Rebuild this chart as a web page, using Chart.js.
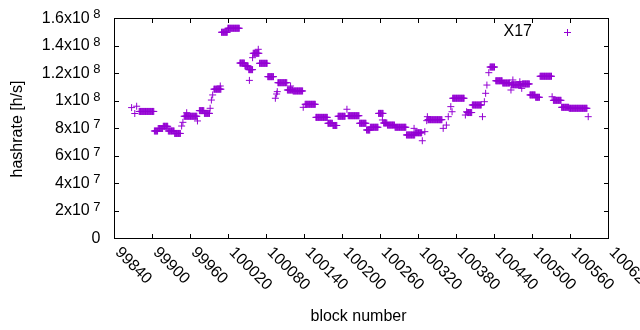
<!DOCTYPE html>
<html>
<head>
<meta charset="utf-8">
<script src="https://cdn.jsdelivr.net/npm/chart.js@4.4.1/dist/chart.umd.min.js"></script>
<style>
  html, body { margin: 0; padding: 0; background: #fff; }
  #wrap { width: 640px; height: 330px; }
</style>
</head>
<body>
<div id="wrap"><canvas id="chart" width="640" height="330"></canvas></div>
<script>
// hashrate readings, grouped in runs of consecutive blocks with the same value
const runStart = [
  99867, 99872, 99875, 99879, 99903, 99909, 99917, 99925, 99935, 99946,
  99948, 99950, 99954, 99971, 99974, 99982, 99991, 99993, 99995, 99997,
  100007, 100009, 100019, 100038, 100046, 100052, 100053, 100058, 100059, 100067,
  100069, 100082, 100094, 100096, 100097, 100098, 100113, 100118, 100122, 100138,
  100141, 100158, 100177, 100185, 100193, 100207, 100209, 100227, 100238, 100244,
  100257, 100263, 100265, 100271, 100283, 100301, 100313, 100315, 100326, 100330,
  100333, 100334, 100335, 100359, 100364, 100367, 100371, 100373, 100374, 100394,
  100396, 100397, 100405, 100421, 100424, 100426, 100428, 100431, 100433, 100442,
  100453, 100466, 100467, 100469, 100480, 100483, 100484, 100496, 100505, 100512,
  100531, 100533, 100546, 100558, 100588
];
const runEnd = [
  99867, 99872, 99875, 99902, 99908, 99916, 99924, 99934, 99944, 99946,
  99948, 99970, 99954, 99971, 99981, 99990, 99991, 99993, 99995, 100008,
  100007, 100018, 100037, 100045, 100051, 100058, 100053, 100058, 100068, 100067,
  100081, 100091, 100094, 100096, 100097, 100112, 100121, 100118, 100137, 100138,
  100157, 100176, 100184, 100191, 100204, 100207, 100226, 100237, 100243, 100256,
  100264, 100263, 100270, 100282, 100300, 100314, 100313, 100325, 100326, 100330,
  100333, 100334, 100357, 100359, 100364, 100367, 100371, 100373, 100392, 100394,
  100396, 100404, 100419, 100421, 100424, 100426, 100428, 100431, 100440, 100452,
  100464, 100466, 100482, 100469, 100480, 100483, 100495, 100504, 100511, 100530,
  100531, 100545, 100557, 100586, 100588
];
const runHashrate = [
  9.52e7, 9.09e7, 9.62e7, 9.24e7, 7.82e7, 8.00e7, 8.16e7, 7.82e7, 7.64e7, 8.18e7,
  8.45e7, 8.89e7, 9.15e7, 8.55e7, 9.30e7, 9.10e7, 9.47e7, 10.07e7, 10.44e7, 10.86e7,
  11.09e7, 15.00e7, 15.29e7, 12.76e7, 12.55e7, 12.28e7, 11.50e7, 13.15e7, 13.47e7, 13.76e7,
  12.74e7, 11.77e7, 10.20e7, 10.51e7, 10.68e7, 11.33e7, 10.80e7, 11.09e7, 10.73e7, 9.54e7,
  9.76e7, 8.81e7, 8.38e7, 8.22e7, 8.89e7, 9.40e7, 8.93e7, 8.38e7, 7.89e7, 8.09e7,
  9.10e7, 8.62e7, 8.40e7, 8.25e7, 8.09e7, 7.53e7, 8.01e7, 7.69e7, 7.11e7, 7.77e7,
  8.57e7, 8.86e7, 8.64e7, 8.01e7, 8.25e7, 8.86e7, 9.59e7, 9.22e7, 10.20e7, 8.98e7,
  9.22e7, 9.16e7, 9.71e7, 8.86e7, 9.95e7, 10.56e7, 11.16e7, 12.06e7, 12.47e7, 11.47e7,
  11.31e7, 10.80e7, 11.18e7, 11.53e7, 11.40e7, 10.92e7, 11.24e7, 10.44e7, 10.27e7, 11.80e7,
  10.31e7, 10.05e7, 9.54e7, 9.47e7, 8.86e7
];

const xTicks = [99840, 99900, 99960, 100020, 100080, 100140, 100200, 100260, 100320, 100380, 100440, 100500, 100560, 100620];
const yTicks = [0, 2e7, 4e7, 6e7, 8e7, 1e8, 1.2e8, 1.4e8, 1.6e8];
const yTickMantissa = ['0', '2x10', '4x10', '6x10', '8x10', '1x10', '1.2x10', '1.4x10', '1.6x10'];
const yTickExponent = ['', '7', '7', '7', '7', '8', '8', '8', '8'];
const seriesName = 'X17';

const purple = '#9400d3';
const FONT = '"Liberation Sans", Arial, sans-serif';

// one point per block
const points = [];
runStart.forEach((s, i) => {
    for (let b = s; b <= runEnd[i]; b++) points.push({ x: b, y: runHashrate[i] });
});

// gnuplot-style frame, mirrored inward ticks, labels and key
const gnuplotAxes = {
    id: 'gnuplotAxes',
    afterDraw(chart) {
        const ctx = chart.ctx;
        const a = chart.chartArea;
        const xs = chart.scales.x, ys = chart.scales.y;
        const tl = 4.5;
        const snap = v => Math.floor(v) + 0.5;

        ctx.save();
        ctx.strokeStyle = '#000';
        ctx.lineWidth = 1;
        ctx.strokeRect(a.left, a.top, a.right - a.left, a.bottom - a.top);

        ctx.beginPath();
        xTicks.forEach(v => {
            const px = snap(xs.getPixelForValue(v));
            ctx.moveTo(px, a.bottom); ctx.lineTo(px, a.bottom - tl);
            ctx.moveTo(px, a.top); ctx.lineTo(px, a.top + tl);
        });
        yTicks.forEach(v => {
            const py = snap(ys.getPixelForValue(v));
            ctx.moveTo(a.left, py); ctx.lineTo(a.left + tl, py);
            ctx.moveTo(a.right, py); ctx.lineTo(a.right - tl, py);
        });
        ctx.stroke();

        ctx.fillStyle = '#000';

        // x tick labels, rotated down to the right
        ctx.font = '16px ' + FONT;
        ctx.textAlign = 'left';
        ctx.textBaseline = 'middle';
        xTicks.forEach(v => {
            const px = xs.getPixelForValue(v);
            ctx.save();
            ctx.translate(px + 3, 250);
            ctx.rotate(Math.PI / 4);
            ctx.fillText(String(v), 0, 0);
            ctx.restore();
        });

        // y tick labels with raised exponent
        const rightEdge = 100.5;
        yTicks.forEach((v, i) => {
            const py = ys.getPixelForValue(v);
            ctx.textAlign = 'right';
            ctx.textBaseline = 'middle';
            let x = rightEdge;
            if (yTickExponent[i]) {
                ctx.font = '13px ' + FONT;
                const w = ctx.measureText(yTickExponent[i]).width;
                ctx.fillText(yTickExponent[i], rightEdge, py - 4);
                x = rightEdge - w - 3.5;
            }
            ctx.font = '16px ' + FONT;
            ctx.fillText(yTickMantissa[i], x, py);
        });

        // axis titles
        ctx.font = '16px ' + FONT;
        ctx.textAlign = 'center';
        ctx.textBaseline = 'alphabetic';
        ctx.fillText('block number', 358.5, 320.5);
        ctx.save();
        ctx.translate(21.5, 129);
        ctx.rotate(-Math.PI / 2);
        ctx.fillText('hashrate [h/s]', 0, 0);
        ctx.restore();

        // key
        ctx.textAlign = 'right';
        ctx.textBaseline = 'middle';
        ctx.fillText(seriesName, 532, 31.5);
        ctx.strokeStyle = purple;
        ctx.beginPath();
        ctx.moveTo(564, 32.5); ctx.lineTo(571, 32.5);
        ctx.moveTo(567.5, 29); ctx.lineTo(567.5, 36);
        ctx.stroke();

        ctx.restore();
    }
};

new Chart(document.getElementById('chart'), {
    type: 'scatter',
    data: {
        datasets: [{
            label: seriesName,
            data: points,
            pointStyle: 'cross',
            pointRadius: 3.5,
            pointHoverRadius: 3.5,
            borderWidth: 1,
            borderColor: purple,
            backgroundColor: purple
        }]
    },
    options: {
        responsive: false,
        animation: false,
        devicePixelRatio: 1,
        layout: { padding: { left: 114.5, right: 31.5, top: 18.5, bottom: 91.5 } },
        scales: {
            x: { type: 'linear', min: 99840, max: 100620, display: false },
            y: { type: 'linear', min: 0, max: 1.6e8, display: false }
        },
        plugins: {
            legend: { display: false },
            tooltip: { enabled: false }
        }
    },
    plugins: [gnuplotAxes]
});
</script>
</body>
</html>
